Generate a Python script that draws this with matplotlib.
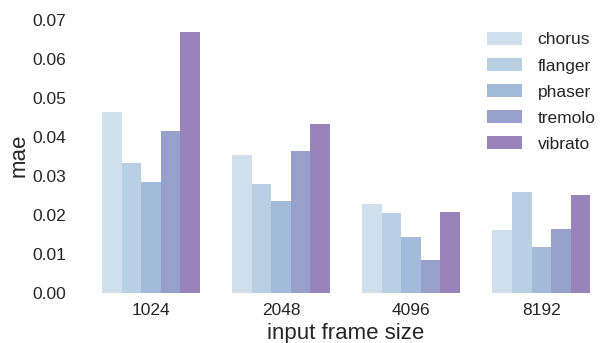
import numpy as np
import matplotlib
matplotlib.use("Agg")
import matplotlib.pyplot as plt
import seaborn as sns

frame_sizes = ["1024", "2048", "4096", "8192"]
effects = ["chorus", "flanger", "phaser", "tremolo", "vibrato"]

chorus = [0.0465, 0.0353, 0.0227, 0.0161]
flanger = [0.0332, 0.0279, 0.0204, 0.0258]
phaser = [0.0284, 0.0235, 0.0143, 0.0118]
tremolo = [0.0416, 0.0365, 0.0084, 0.0164]
vibrato = [0.0669, 0.0432, 0.0207, 0.0250]

colors = ["#cfdfeb", "#b9cfe4", "#a4badb", "#97a0ca", "#9883bc"]

sns.set_style("white")
plt.rcParams["font.family"] = ["Liberation Sans", "DejaVu Sans"]
plt.rcParams["text.color"] = "#262626"
plt.rcParams["xtick.color"] = "#262626"
plt.rcParams["ytick.color"] = "#262626"
plt.rcParams["axes.labelcolor"] = "#262626"

fig = plt.figure(figsize=(6.05, 3.43), dpi=100)
ax = fig.add_axes([86 / 605, 50 / 343, 519 / 605, 275 / 343])

series = [chorus, flanger, phaser, tremolo, vibrato]
x = np.arange(len(frame_sizes))
w = 0.75 / len(effects)
for i, (name, vals) in enumerate(zip(effects, series)):
    ax.bar(x - 0.375 + w * (i + 0.5), vals, width=w, color=colors[i], label=name, linewidth=0)

ax.set_xlim(-0.5, 3.49)
ax.set_ylim(0, 0.0705)
ax.set_yticks(np.arange(0, 0.071, 0.01))
ax.yaxis.set_major_formatter(matplotlib.ticker.FormatStrFormatter("%.2f"))
ax.set_xticks(x)
ax.set_xticklabels(frame_sizes)
ax.tick_params(labelsize=12.5, length=0)
ax.tick_params(axis="y", pad=14)
ax.tick_params(axis="x", pad=7)
ax.set_xlabel("input frame size", fontsize=16, labelpad=4)
ax.set_ylabel("mae", fontsize=16, labelpad=2)
for s in ax.spines.values():
    s.set_visible(False)

ax.legend(loc="upper right", frameon=False, fontsize=12.5, handlelength=2.0, handleheight=0.8,
          labelspacing=0.6, handletextpad=0.9, borderaxespad=0.0, bbox_to_anchor=(0.995, 0.975))

fig.savefig("out.png", dpi=100)
